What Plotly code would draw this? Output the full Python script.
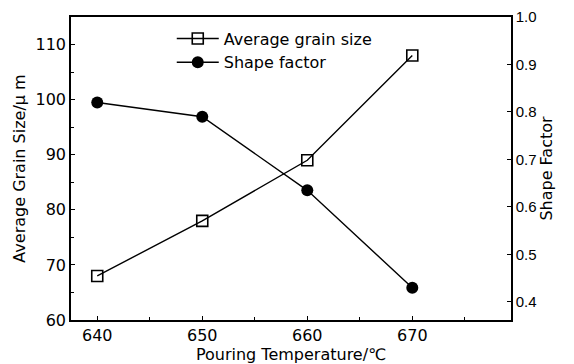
import plotly.graph_objects as go

temperature = [640, 650, 660, 670]
grain_size = [68, 78, 89, 108]
shape_factor = [0.82, 0.79, 0.635, 0.43]

FONT = "DejaVu Sans, Liberation Sans, Arial, sans-serif"
FONT_R = "Liberation Sans, Arial, sans-serif"

fig = go.Figure()
fig.add_trace(go.Scatter(
    x=temperature, y=grain_size, name="Average grain size",
    mode="lines+markers",
    line=dict(color="black", width=1.4),
    marker=dict(symbol="square-open", size=11, color="black", line=dict(width=1.6, color="black")),
    yaxis="y"))
fig.add_trace(go.Scatter(
    x=temperature, y=shape_factor, name="Shape factor",
    mode="lines+markers",
    line=dict(color="black", width=1.4),
    marker=dict(symbol="circle", size=12, color="black"),
    yaxis="y2"))

def axis_common(font_family, size):
    return dict(showgrid=False, zeroline=False, showline=True, linecolor="black", linewidth=1.5,
                ticks="inside", ticklen=4, tickwidth=1, tickcolor="black",
                tickfont=dict(family=font_family, size=size, color="black"))

fig.update_layout(
    width=574, height=364,
    margin=dict(l=71, r=63, t=17, b=44, autoexpand=False),
    plot_bgcolor="white", paper_bgcolor="white",
    font=dict(family=FONT, size=16, color="black"),
    xaxis=dict(range=[637.5, 679.4], tickvals=[640, 650, 660, 670], mirror=True,
               minor=dict(tickvals=[645, 655, 665, 675], ticks="inside", ticklen=3, tickcolor="black"),
               title=dict(text="Pouring Temperature/℃", standoff=0, font=dict(family=FONT, size=16)),
               **axis_common(FONT, 16)),
    yaxis=dict(range=[60, 115], tickvals=[60, 70, 80, 90, 100, 110],
               minor=dict(tickvals=[65, 75, 85, 95, 105], ticks="inside", ticklen=3, tickcolor="black"),
               title=dict(text="Average Grain Size/μ m", standoff=6, font=dict(family=FONT, size=16)),
               **axis_common(FONT, 16)),
    yaxis2=dict(range=[0.362, 1.0], tickvals=[0.4, 0.5, 0.6, 0.7, 0.8, 0.9, 1.0],
                tickformat=".1f", overlaying="y", side="right", anchor="x",
                title=dict(text="Shape Factor", standoff=1, font=dict(family=FONT, size=16)),
                **axis_common(FONT_R, 15)),
    legend=dict(x=0.229, y=0.985, xanchor="left", yanchor="top", bgcolor="rgba(0,0,0,0)",
                font=dict(family=FONT, size=16), tracegroupgap=0, itemwidth=42),
    showlegend=True,
)

fig.write_html("out.html", config={"displayModeBar": False},
               post_script="document.body.style.margin='0';document.body.style.padding='0';")
